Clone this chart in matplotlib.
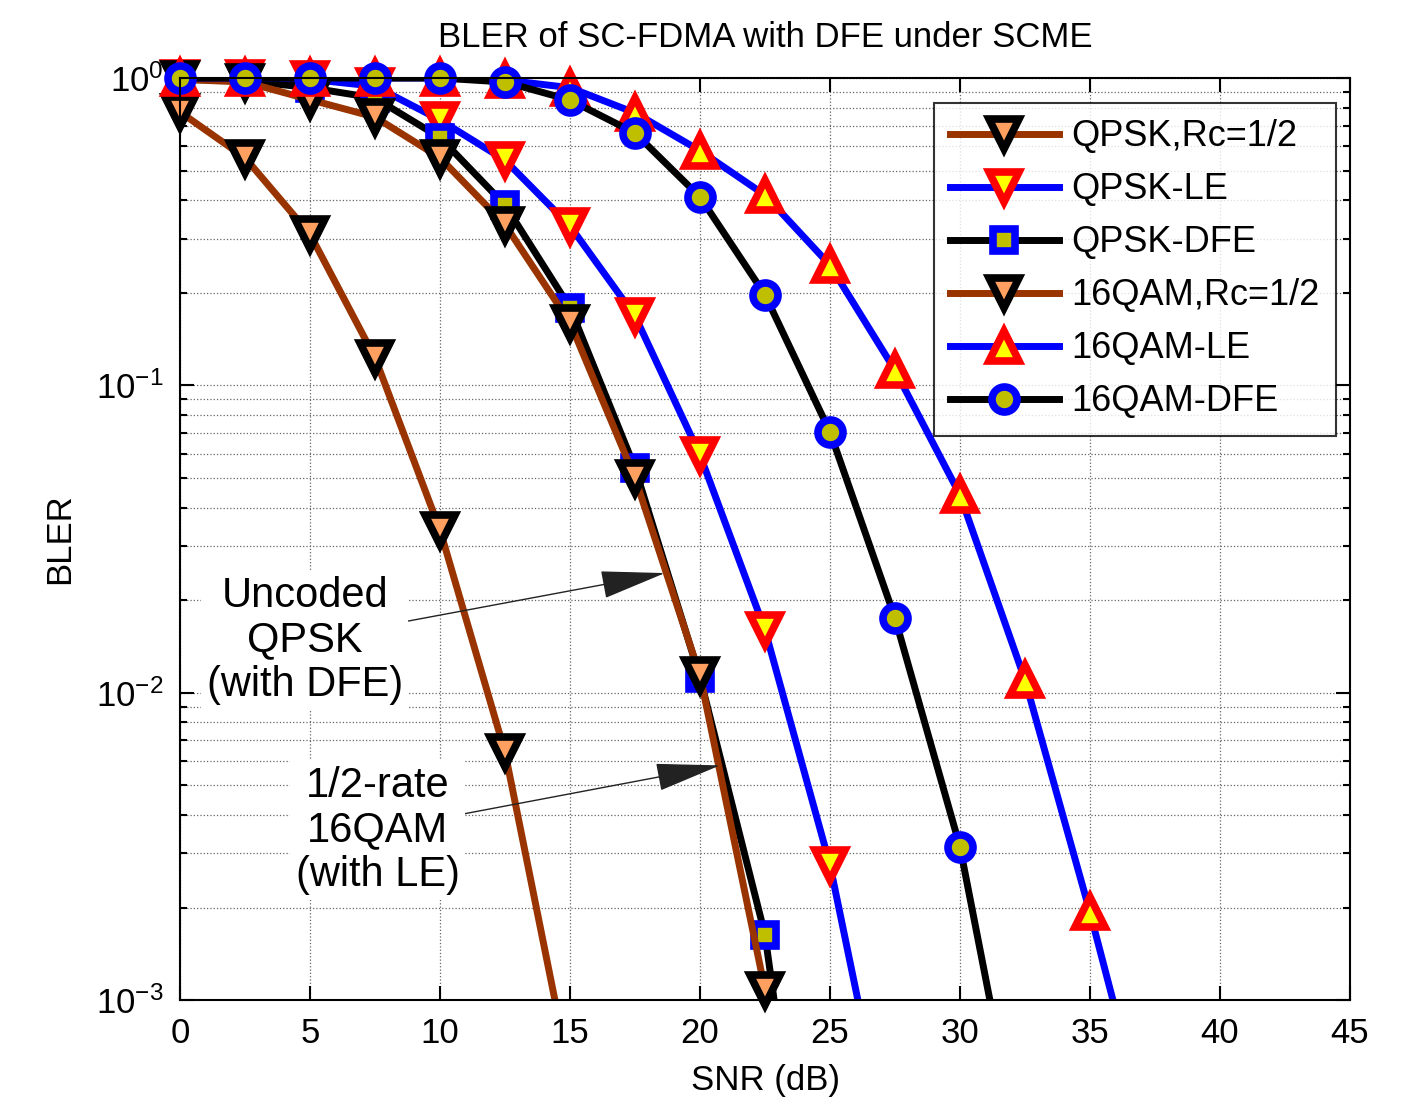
import numpy as np
import matplotlib
matplotlib.use('Agg')
from matplotlib import pyplot as plt
from matplotlib.lines import Line2D
from matplotlib.ticker import LogLocator, MultipleLocator

plt.rcParams['font.family'] = ['Liberation Sans', 'DejaVu Sans']
plt.rcParams['mathtext.default'] = 'regular'

snr = [0, 2.5, 5, 7.5, 10, 12.5, 15, 17.5, 20, 22.5, 25, 27.5, 30, 32.5, 35, 37.5]

qpsk_rc = [0.775, 0.55, 0.31, 0.123, 0.0338, 0.0064, 5.7e-4]
qpsk_le = [1.0, 1.0, 0.99, 0.94, 0.73, 0.54, 0.33, 0.168, 0.0593, 0.016, 0.00275, 2.6e-4]
qpsk_dfe = [0.99, 0.98, 0.93, 0.86, 0.64, 0.386, 0.179, 0.0538, 0.0112, 0.00163, 5e-5]
qam_rc = [0.99, 0.97, 0.85, 0.746, 0.55, 0.333, 0.16, 0.05, 0.0114, 0.00108]
qam_le = [1.0, 1.0, 1.0, 1.0, 1.0, 0.985, 0.93, 0.77, 0.58, 0.416, 0.246, 0.112,
          0.044, 0.011, 0.00193, 3e-4]
qam_dfe = [1.0, 1.0, 1.0, 1.0, 1.0, 0.97, 0.848, 0.662, 0.41, 0.197, 0.0705, 0.0175,
           0.00315, 2.6e-4]

brown = '#993300'
orange = '#ffa060'
olive = '#bfbf00'
lw = 5
mew = 5.5

series = [
    ('QPSK,Rc=1/2', qpsk_rc, brown, 'v', 21, orange, 'black'),
    ('QPSK-LE', qpsk_le, 'blue', 'v', 21, 'yellow', 'red'),
    ('QPSK-DFE', qpsk_dfe, 'black', 's', 16, olive, 'blue'),
    ('16QAM,Rc=1/2', qam_rc, brown, 'v', 21, orange, 'black'),
    ('16QAM-LE', qam_le, 'blue', '^', 21, 'yellow', 'red'),
    ('16QAM-DFE', qam_dfe, 'black', 'o', 18, olive, 'blue'),
]

fig = plt.figure(figsize=(14.18, 10.97), dpi=100)
ax = fig.add_axes([0.127, 0.0884, 0.825, 0.8405])

handles = []
labels = []
for i, (name, vals, col, mk, ms, fc, ec) in enumerate(series):
    x = snr[:len(vals)]
    ax.semilogy(x, vals, color=col, lw=lw, zorder=2 + 2 * i)
    # markers on the frame edge are drawn unclipped, the rest are dropped
    xm = [a for a, b in zip(x, vals) if b >= 9.5e-4]
    ym = [b for b in vals if b >= 9.5e-4]
    ax.plot(xm, ym, ls='none', marker=mk, ms=ms, mfc=fc, mec=ec, mew=mew,
            clip_on=False, zorder=3 + 2 * i)
    handles.append((Line2D([], [], color=col, lw=lw),
                    Line2D([], [], ls='none', marker=mk, ms=ms, mfc=fc, mec=ec, mew=mew)))
    labels.append(name)

ax.set_xlim(0, 45)
ax.set_ylim(1e-3, 1)

ax.xaxis.set_major_locator(MultipleLocator(5))
ax.yaxis.set_major_locator(LogLocator(base=10, numticks=10))
ax.yaxis.set_minor_locator(LogLocator(base=10, subs=np.arange(2, 10), numticks=10))
ax.grid(True, which='major', ls=':', color='#666666', lw=0.9)
ax.grid(True, which='minor', axis='y', ls=':', color='#666666', lw=0.9)
ax.tick_params(which='both', direction='in', top=True, right=True, labelsize=25,
               width=1.5, pad=12)
ax.tick_params(which='major', length=10)
ax.tick_params(which='minor', length=5)
for s in ax.spines.values():
    s.set_linewidth(1.5)
    s.set_zorder(20)

ax.set_title('BLER of SC-FDMA with DFE under SCME', fontsize=25, pad=22)
ax.set_xlabel('SNR (dB)', fontsize=25, labelpad=10)
ax.set_ylabel('BLER', fontsize=25, labelpad=14)

leg = ax.legend(handles, labels, loc='upper right', bbox_to_anchor=(0.988, 0.973),
                borderaxespad=0, fontsize=26, frameon=True, fancybox=False,
                edgecolor='black', handlelength=3.0, labelspacing=0.5,
                borderpad=0.45, handletextpad=0.35)
leg.get_frame().set_linewidth(1.5)
leg.set_zorder(30)

box = dict(facecolor='white', edgecolor='none', pad=4)
arrow = dict(arrowstyle='-|>,head_length=1.4,head_width=0.3', color='#222222',
             lw=1.0, shrinkA=0, shrinkB=0)
ax.annotate('Uncoded\nQPSK\n(with DFE)', xy=(18.65, 0.0245), xytext=(4.8, 0.0148),
            ha='center', va='center', fontsize=30, linespacing=1.15, bbox=box,
            arrowprops=arrow, zorder=25)
ax.annotate('1/2-rate\n16QAM\n(with LE)', xy=(20.77, 0.0058), xytext=(7.6, 0.00357),
            ha='center', va='center', fontsize=30, linespacing=1.15, bbox=box,
            arrowprops=arrow, zorder=25)

fig.savefig('out.png', dpi=100, facecolor='white')
